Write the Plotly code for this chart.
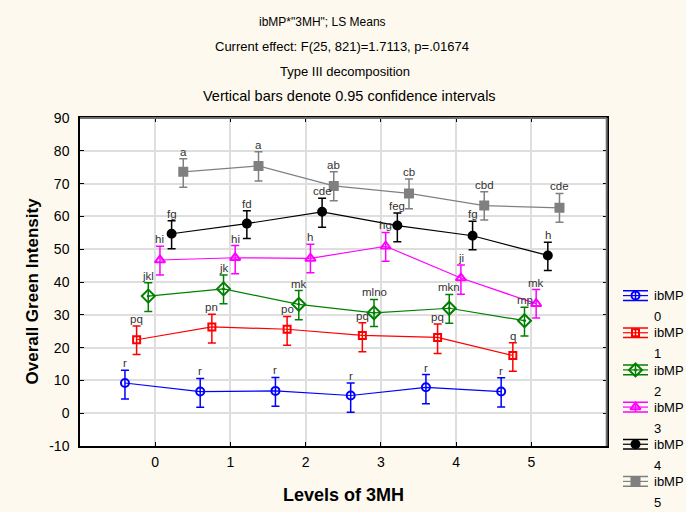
import plotly.graph_objects as go

# ---- data -------------------------------------------------------------
levels = [0, 1, 2, 3, 4, 5]
group_ids = ["0", "1", "2", "3", "4", "5"]

mean_0 = [9.2, 6.6, 6.8, 5.4, 7.9, 6.6]
upper_0 = [13.1, 10.6, 10.9, 9.2, 11.8, 10.8]
lower_0 = [4.3, 1.8, 2.1, 0.3, 2.9, 1.9]
letters_0 = ["r", "r", "r", "r", "r", "r"]

mean_1 = [22.4, 26.3, 25.6, 23.7, 23.1, 17.6]
upper_1 = [26.6, 30.2, 29.5, 27.6, 27.2, 21.5]
lower_1 = [17.9, 21.4, 20.7, 18.7, 18.2, 12.8]
letters_1 = ["pq", "pn", "po", "pq", "pq", "q"]

mean_2 = [35.7, 37.9, 33.2, 30.6, 32.0, 28.2]
upper_2 = [39.8, 42.1, 37.4, 34.7, 36.2, 32.3]
lower_2 = [31.0, 33.4, 28.5, 26.4, 27.4, 23.5]
letters_2 = ["jkl", "jk", "mk", "mlno", "mkn", "mp"]

mean_3 = [46.7, 47.4, 47.2, 50.9, 41.2, 33.4]
upper_3 = [50.9, 51.1, 51.5, 55.1, 45.2, 37.7]
lower_3 = [42.1, 42.5, 42.8, 46.3, 36.3, 29.0]
letters_3 = ["hi", "hi", "h", "hg", "ji", "mk"]

mean_4 = [54.7, 57.8, 61.4, 57.2, 54.1, 48.1]
upper_4 = [58.7, 61.7, 65.5, 61.0, 58.5, 52.1]
lower_4 = [50.1, 53.3, 56.7, 52.3, 49.8, 43.5]
letters_4 = ["fg", "fd", "cde", "feg", "fg", "h"]

mean_5 = [73.6, 75.4, 69.3, 67.0, 63.3, 62.6]
upper_5 = [77.6, 79.7, 73.6, 71.4, 67.5, 67.0]
lower_5 = [68.9, 70.8, 64.8, 62.3, 58.9, 58.2]
letters_5 = ["a", "a", "ab", "cb", "cbd", "cde"]

y_ticks = [-10, 0, 10, 20, 30, 40, 50, 60, 70, 80, 90]

# ---- styling ----------------------------------------------------------
W, H = 686, 512
FONT = "Liberation Sans, Arial, sans-serif"
colors = ["#0000FF", "#FF0000", "#008000", "#FF00FF", "#000000", "#808080"]
symbols = ["circle-open", "square-open", "diamond-open-dot",
           "triangle-up-open", "circle", "square"]
msizes = [8, 7, 10, 9, 8, 8]

means = [mean_0, mean_1, mean_2, mean_3, mean_4, mean_5]
uppers = [upper_0, upper_1, upper_2, upper_3, upper_4, upper_5]
lowers = [lower_0, lower_1, lower_2, lower_3, lower_4, lower_5]
letters = [letters_0, letters_1, letters_2, letters_3, letters_4, letters_5]


def px(x):
    return x / W


def py(y):
    return 1 - y / H


fig = go.Figure()
annotations = []

n = len(group_ids)
for i in range(n):
    # groups are spread side by side around each level
    offset = (i - (n - 1) / 2) * 0.155 - 0.015
    xs = [lv + offset for lv in levels]
    plus = [u - m for u, m in zip(uppers[i], means[i])]
    minus = [m - lo for m, lo in zip(means[i], lowers[i])]
    fig.add_trace(go.Scatter(
        x=xs, y=means[i], mode="lines+markers",
        line=dict(color=colors[i], width=1.2),
        marker=dict(symbol=symbols[i], size=msizes[i], color=colors[i],
                    line=dict(color=colors[i], width=2)),
        error_y=dict(type="data", symmetric=False, array=plus,
                     arrayminus=minus, color=colors[i], thickness=1.5, width=4),
        xaxis="x", yaxis="y", showlegend=False, hoverinfo="skip",
    ))
    for x, top, txt in zip(xs, uppers[i], letters[i]):
        annotations.append(dict(
            x=x, y=top, xref="x", yref="y", text=txt, showarrow=False,
            xanchor="center", yanchor="bottom", yshift=-1,
            font=dict(family=FONT, size=11.5, color="#333333"),
        ))

    # legend glyph: line with an error bar and the group's marker
    fig.add_trace(go.Scatter(
        x=[0, 1], y=[i, i], mode="lines",
        line=dict(color=colors[i], width=1.2),
        xaxis="x2", yaxis="y2", showlegend=False, hoverinfo="skip",
    ))
    fig.add_trace(go.Scatter(
        x=[0.5], y=[i], mode="markers",
        marker=dict(symbol=symbols[i], size=msizes[i], color=colors[i],
                    line=dict(color=colors[i], width=2)),
        error_y=dict(type="constant", value=0.13, color=colors[i],
                     thickness=1.5, width=12.5),
        xaxis="x2", yaxis="y2", showlegend=False, hoverinfo="skip",
    ))
    slot = 295.6 + 37.2 * i
    annotations.append(dict(
        x=px(653), y=py(slot), xref="paper", yref="paper", text="ibMP",
        showarrow=False, xanchor="left", yanchor="middle", borderpad=0,
        font=dict(family=FONT, size=13, color="#000000"),
    ))
    annotations.append(dict(
        x=px(653), y=py(slot + 21), xref="paper", yref="paper",
        text=group_ids[i], showarrow=False, xanchor="left", yanchor="middle",
        borderpad=0, font=dict(family=FONT, size=13, color="#000000"),
    ))

# title block
title_lines = [
    ('ibMP*"3MH"; LS Means', 322, 22, 12),
    ("Current effect: F(25, 821)=1.7113, p=.01674", 341.5, 46, 13),
    ("Type III decomposition", 344.5, 71, 13),
    ("Vertical bars denote 0.95 confidence intervals", 349.5, 95.5, 14.5),
]
for txt, cx, cy, fs in title_lines:
    annotations.append(dict(
        x=px(cx), y=py(cy), xref="paper", yref="paper", text=txt,
        showarrow=False, xanchor="center", yanchor="middle",
        font=dict(family=FONT, size=fs, color="#000000"),
    ))

# axis titles
annotations.append(dict(
    x=px(32), y=py(291.5), xref="paper", yref="paper",
    text="<b>Overall Green Intensity</b>", textangle=-90, showarrow=False,
    xanchor="center", yanchor="middle",
    font=dict(family=FONT, size=17, color="#000000"),
))
annotations.append(dict(
    x=px(343), y=py(495), xref="paper", yref="paper",
    text="<b>Levels of 3MH</b>", showarrow=False,
    xanchor="center", yanchor="middle",
    font=dict(family=FONT, size=18, color="#000000"),
))

axis_font = dict(family=FONT, size=14, color="#000000")
fig.update_layout(
    width=W, height=H,
    margin=dict(l=0, r=0, t=0, b=0, autoexpand=False),
    paper_bgcolor="#FDF9EE",
    plot_bgcolor="rgba(0,0,0,0)",
    showlegend=False,
    font=dict(family=FONT),
    annotations=annotations,
    xaxis=dict(
        domain=[px(80), px(606.7)], range=[-1, 6], automargin=False,
        tickmode="array", tickvals=levels, ticktext=[str(v) for v in levels],
        showgrid=True, gridcolor="#DEDEDE", gridwidth=1.5, zeroline=False,
        showline=True, linecolor="#000000", linewidth=1.5, mirror="ticks",
        ticks="inside", ticklen=4, tickcolor="#000000",
        tickfont=axis_font, ticklabelstandoff=2, anchor="y",
    ),
    yaxis=dict(
        domain=[py(446), py(118)], range=[-10, 90], automargin=False,
        tickmode="array", tickvals=y_ticks, ticktext=[str(v) for v in y_ticks],
        showgrid=True, gridcolor="#DEDEDE", gridwidth=1.5, zeroline=False,
        showline=True, linecolor="#000000", linewidth=1.5, mirror="ticks",
        ticks="inside", ticklen=4, tickcolor="#000000",
        tickfont=axis_font, ticklabelstandoff=6, anchor="x",
    ),
    xaxis2=dict(domain=[px(623), px(648)], range=[0, 1], visible=False,
                automargin=False, anchor="y2"),
    yaxis2=dict(domain=[py(500), py(277)], range=[5.5, -0.5], visible=False,
                automargin=False, anchor="x2"),
    shapes=[
        # white plotting area under the grid
        dict(type="rect", xref="x domain", yref="y domain", x0=0, x1=1,
             y0=0, y1=1, layer="below", fillcolor="#FFFFFF",
             line=dict(width=0)),
        # grey top and right frame
        dict(type="line", xref="x domain", yref="y domain", x0=0, x1=1,
             y0=1, y1=1, line=dict(color="#707070", width=2)),
        dict(type="line", xref="x domain", yref="y domain", x0=1, x1=1,
             y0=0, y1=1, line=dict(color="#707070", width=2)),
    ],
)

fig.write_html("out.html")
